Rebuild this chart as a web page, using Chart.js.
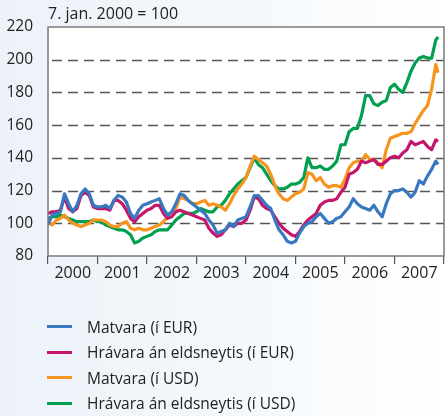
<!DOCTYPE html>
<html>
<head>
<meta charset="utf-8">
<script src="https://cdn.jsdelivr.net/npm/chart.js@4.4.1/dist/chart.umd.min.js"></script>
<style>
  html, body { margin: 0; padding: 0; }
  body {
    width: 446px; height: 416px; overflow: hidden;
    background: linear-gradient(to right, #edf2f9 0%, #f6f9fc 60%, #ffffff 100%);
    font-family: "Open Sans", sans-serif;
  }
  #wrap { position: relative; width: 446px; height: 416px; }
  #legend { position: absolute; left: 0; top: 314px; }
  .item { height: 25.5px; display: flex; align-items: center; font-size: 15.5px; color: #222; }
  .swatch { width: 25px; height: 3px; margin-left: 47px; margin-right: 15px; }
</style>
</head>
<body>
<div id="wrap">
  <canvas id="chart" width="446" height="416"></canvas>
  <div id="legend"></div>
</div>
<script>
const names = ["Matvara (í EUR)", "Hrávara án eldsneytis (í EUR)", "Matvara (í USD)", "Hrávara án eldsneytis (í USD)"];
const colors = ["#3878c0", "#c4166b", "#f7941e", "#00a04f"];
const years = ["2000", "2001", "2002", "2003", "2004", "2005", "2006", "2007"];
const yTicks = [80, 100, 120, 140, 160, 180, 200, 220];

// monthly readings from Jan 2000, last value is the final week (Nov 2007)
const matvaraEur = [
  99, 105, 106, 107, 118, 112, 107, 111, 118, 121, 118, 111,
  110, 110, 111, 109, 114, 117, 116, 113, 106, 103, 108, 111,
  112, 113, 114, 115, 109, 105, 107, 112, 118, 117, 114, 112,
  110, 108, 106, 102, 99, 94, 95, 96, 100, 98, 102, 103,
  104, 110, 117, 117, 114, 111, 109, 102, 96, 93, 89, 88,
  89, 94, 98, 100, 101, 104, 106, 103, 100, 101, 103, 104,
  107, 110, 115, 112, 110, 109, 108, 111, 107, 104, 112, 118,
  120, 120, 121, 119, 116, 119, 126, 124, 129, 133, 138, 136
];
const hravaraEur = [
  106, 107, 107, 108, 116, 109, 107, 109, 117, 119, 117, 110,
  109, 109, 109, 108, 114, 114, 112, 108, 103, 101, 104, 106,
  108, 109, 111, 111, 106, 103, 104, 107, 108, 107, 106, 105,
  104, 103, 102, 97, 94, 92, 93, 96, 99, 98, 100, 100,
  102, 108, 116, 115, 111, 109, 108, 104, 100, 97, 95, 93,
  92, 95, 99, 102, 104, 106, 111, 113, 114, 114, 115, 119,
  122, 130, 131, 133, 138, 137, 138, 139, 136, 136, 138, 140,
  141, 140, 143, 145, 150, 148, 149, 150, 147, 145, 151, 150
];
const matvaraUsd = [
  101, 99, 102, 103, 105, 102, 100, 99, 98, 99, 100, 102,
  102, 102, 101, 99, 98, 98, 100, 101, 97, 96, 97, 96,
  96, 97, 98, 99, 101, 104, 107, 109, 116, 115, 114, 112,
  112, 113, 114, 111, 112, 111, 110, 108, 112, 117, 121, 124,
  128, 135, 141, 139, 137, 135, 130, 123, 118, 115, 114, 116,
  118, 119, 121, 131, 130, 126, 128, 124, 122, 123, 123, 122,
  127, 134, 137, 138, 138, 142, 139, 139, 137, 134, 145, 152,
  153, 154, 155, 155, 156, 161, 165, 169, 172, 182, 197, 192
];
const hravaraUsd = [
  103, 104, 104, 105, 104, 103, 102, 101, 101, 101, 101, 102,
  101, 101, 99, 98, 97, 96, 96, 95, 93, 88, 89, 91,
  92, 93, 95, 96, 96, 96, 99, 102, 104, 106, 106, 106,
  107, 109, 108, 107, 107, 110, 111, 114, 118, 121, 124, 126,
  128, 134, 140, 136, 134, 130, 126, 123, 121, 121, 122, 124,
  124, 125, 128, 140, 134, 134, 135, 133, 133, 135, 138, 148,
  148, 156, 158, 158, 166, 178, 178, 173, 172, 174, 175, 183,
  185, 182, 180, 186, 193, 198, 201, 202, 201, 201, 212, 214
];
const series = [matvaraEur, hravaraEur, matvaraUsd, hravaraUsd];

// time of each reading in years
const times = [];
for (let i = 0; i < 95; i++) times.push(2000 + i / 12);
times.push(2007.88);

const FONT = "'Open Sans', sans-serif";

// white plot area, dashed grid, frame and the index note above the plot
const frame = {
  id: "frame",
  beforeDraw(chart) {
    const a = chart.chartArea, c = chart.ctx;
    c.save();
    c.fillStyle = "#ffffff";
    c.fillRect(a.left, a.top, a.right - a.left, a.bottom - a.top);
    const y = chart.scales.y;
    c.strokeStyle = "#555";
    c.lineWidth = 1.3;
    c.setLineDash([10, 6]);
    yTicks.slice(1, -1).forEach(v => {
      const py = Math.round(y.getPixelForValue(v)) + 0.5;
      c.beginPath();
      c.moveTo(a.left + 4, py);
      c.lineTo(a.right, py);
      c.stroke();
    });
    c.restore();
  },
  afterDraw(chart) {
    const a = chart.chartArea, c = chart.ctx;
    c.save();
    c.strokeStyle = "#7a7a7a";
    c.lineWidth = 1.5;
    c.strokeRect(a.left, a.top, a.right - a.left, a.bottom - a.top);
    c.fillStyle = "#222";
    c.font = "16px " + FONT;
    c.textBaseline = "middle";
    c.fillText("7. jan. 2000 = 100", a.left, 14);
    c.restore();
  }
};

const chart = new Chart(document.getElementById("chart"), {
  type: "line",
  data: {
    datasets: series.map((s, k) => ({
      label: names[k],
      data: s.map((v, i) => ({ x: times[i], y: v })),
      borderColor: colors[k],
      borderWidth: 3.2,
      pointRadius: 0,
      tension: 0,
      borderJoinStyle: "round"
    }))
  },
  options: {
    responsive: false,
    animation: false,
    layout: { padding: { top: 27, right: 2, bottom: 135, left: 0 } },
    plugins: { legend: { display: false }, tooltip: { enabled: false } },
    scales: {
      x: {
        type: "linear",
        min: 2000,
        max: 2008,
        afterBuildTicks: s => { s.ticks = years.map(y => ({ value: +y })).concat([{ value: 2008 }]); },
        afterFit: s => { s.height = 25; },
        grid: { drawOnChartArea: false, drawTicks: true, tickLength: 8, color: "#555", lineWidth: 1.2 },
        border: { display: false },
        ticks: {
          padding: 0,
          labelOffset: 24.75,
          maxRotation: 0,
          autoSkip: false,
          color: "#222",
          font: { family: FONT, size: 16 },
          callback: v => years[v - 2000] || ""
        }
      },
      y: {
        min: 80,
        max: 220,
        afterBuildTicks: s => { s.ticks = yTicks.map(v => ({ value: v })); },
        afterFit: s => { s.width = 48; },
        grid: { display: false },
        border: { display: false },
        ticks: {
          padding: 7,
          color: "#222",
          font: { family: FONT, size: 15.5 }
        }
      }
    }
  },
  plugins: [frame]
});

const legend = document.getElementById("legend");
chart.data.datasets.forEach(ds => {
  const row = document.createElement("div");
  row.className = "item";
  const sw = document.createElement("span");
  sw.className = "swatch";
  sw.style.background = ds.borderColor;
  const tx = document.createElement("span");
  tx.textContent = ds.label;
  row.appendChild(sw);
  row.appendChild(tx);
  legend.appendChild(row);
});
</script>
</body>
</html>
